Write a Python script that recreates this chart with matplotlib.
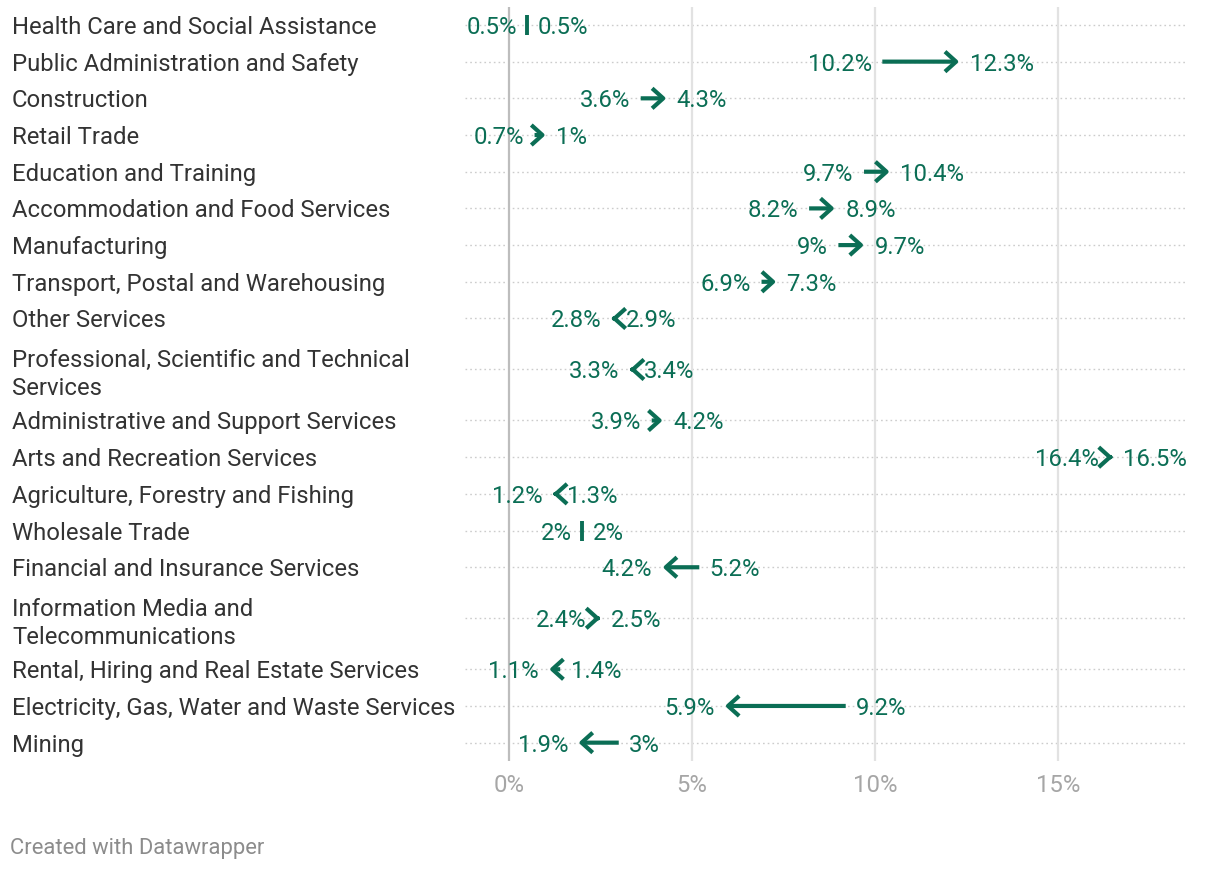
import matplotlib
matplotlib.use("Agg")
import matplotlib.pyplot as plt
import matplotlib.transforms as mtransforms

plt.rcParams['font.family'] = ['Roboto', 'DejaVu Sans']

categories = [
    "Health Care and Social Assistance",
    "Public Administration and Safety",
    "Construction",
    "Retail Trade",
    "Education and Training",
    "Accommodation and Food Services",
    "Manufacturing",
    "Transport, Postal and Warehousing",
    "Other Services",
    "Professional, Scientific and Technical\nServices",
    "Administrative and Support Services",
    "Arts and Recreation Services",
    "Agriculture, Forestry and Fishing",
    "Wholesale Trade",
    "Financial and Insurance Services",
    "Information Media and\nTelecommunications",
    "Rental, Hiring and Real Estate Services",
    "Electricity, Gas, Water and Waste Services",
    "Mining",
]
start_vals = [0.5, 10.2, 3.6, 0.7, 9.7, 8.2, 9, 6.9, 2.9, 3.4, 3.9, 16.4, 1.3, 2, 5.2, 2.4, 1.4, 9.2, 3]
end_vals = [0.5, 12.3, 4.3, 1, 10.4, 8.9, 9.7, 7.3, 2.8, 3.3, 4.2, 16.5, 1.2, 2, 4.2, 2.5, 1.1, 5.9, 1.9]
x_ticks = [0, 5, 10, 15]

green = "#0b6e55"
text_col = "#333333"
fs = 17.2

# row layout: two-line labels take extra room
extra = 0.78
centers = []
pos = 0.0
for lab in categories:
    h = 1 + extra * lab.count("\n")
    centers.append(pos + h / 2)
    pos += h
total = pos

fig = plt.figure(figsize=(12.2, 8.72), dpi=100)
ax = fig.add_axes([465 / 1220, 1 - 761 / 872, (1188 - 465) / 1220, (761 - 6.6) / 872])
ax.set_xlim(-1.2, 18.55)
ax.set_ylim(total, 0)
for s in ax.spines.values():
    s.set_visible(False)
ax.set_yticks([])

# vertical grid
for t in x_ticks:
    ax.axvline(t, color="#bdbdbd" if t == 0 else "#e2e2e2", lw=1.6, zorder=1)
ax.set_xticks(x_ticks)
ax.set_xticklabels([f"{t}%" for t in x_ticks], color="#a6a6a6", fontsize=fs)
ax.tick_params(axis="x", length=0, pad=9)

# dotted row lines
for y in centers:
    ax.axhline(y, color="#cccccc", lw=1, ls=(0, (1.2, 2.2)), zorder=0.5)

lab_tr = mtransforms.blended_transform_factory(fig.transFigure, ax.transData)
for lab, y, a, b in zip(categories, centers, start_vals, end_vals):
    ax.text(12 / 1220, y, lab, transform=lab_tr, ha="left", va="center_baseline",
            fontsize=fs, color=text_col, linespacing=1.27)
    if a == b:
        ax.plot([a], [y], marker="|", ms=15, mew=2.8, color=green, zorder=3)
        left_v, right_v = a, b
        left_s, right_s = f"{a:g}%", f"{b:g}%"
    else:
        ax.annotate("", xy=(b, y), xytext=(a, y),
                    arrowprops=dict(arrowstyle="->,head_length=0.5,head_width=0.45",
                                    lw=3, color=green, shrinkA=0, shrinkB=0,
                                    mutation_scale=16, capstyle="butt"),
                    zorder=3)
        if b > a:
            left_v, right_v = a, b
            left_s, right_s = f"{a:g}%", f"{b:g}%"
        else:
            left_v, right_v = b, a
            left_s, right_s = f"{b:g}%", f"{a:g}%"
    ax.annotate(left_s, xy=(left_v, y), xytext=(-7.5, 0), textcoords="offset points",
                ha="right", va="center_baseline", fontsize=fs, color=green)
    ax.annotate(right_s, xy=(right_v, y), xytext=(7.5, 0), textcoords="offset points",
                ha="left", va="center_baseline", fontsize=fs, color=green)

fig.text(10 / 1220, 1 - 846 / 872, "Created with Datawrapper", ha="left", va="center_baseline",
         fontsize=15.8, color="#8c8c8c")

fig.savefig("out.png", dpi=100, facecolor="white")
